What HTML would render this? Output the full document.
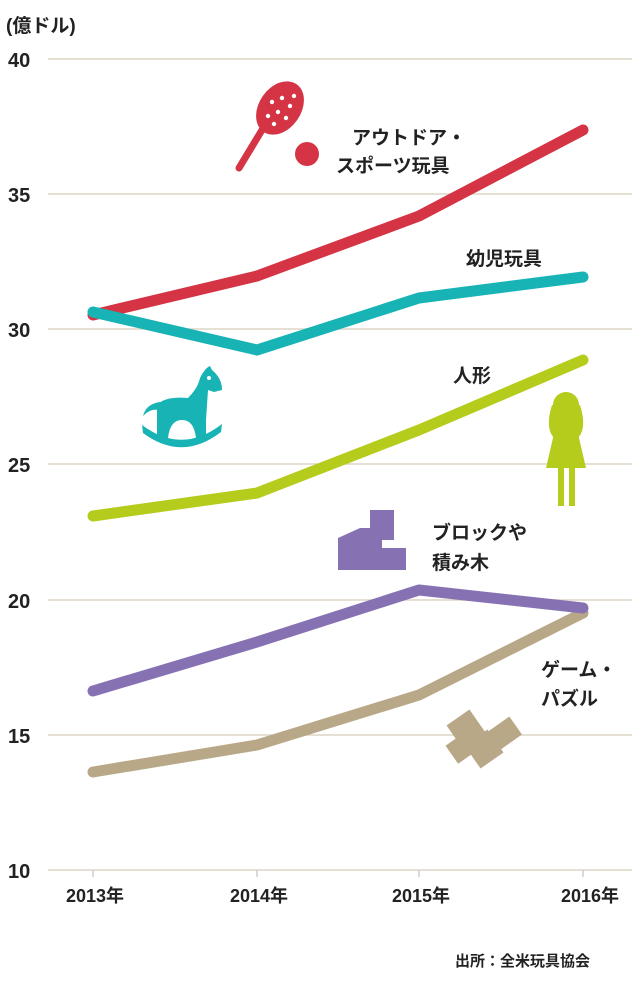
<!DOCTYPE html>
<html><head><meta charset="utf-8"><style>
html,body{margin:0;padding:0;background:#fff;}
svg text{font-family:"Liberation Sans","Noto Sans CJK JP",sans-serif;font-weight:bold;fill:#222;}
</style></head><body>
<svg width="640" height="977" viewBox="0 0 640 977" xmlns="http://www.w3.org/2000/svg">
<text x="6" y="32" font-size="19">(億ドル)</text>
<g stroke="#ddd5c6" stroke-width="1.5">
<line x1="48" y1="59" x2="632" y2="59"/>
<line x1="48" y1="194" x2="632" y2="194"/>
<line x1="48" y1="329" x2="632" y2="329"/>
<line x1="48" y1="464" x2="632" y2="464"/>
<line x1="48" y1="600" x2="632" y2="600"/>
<line x1="48" y1="735" x2="632" y2="735"/>
<line x1="48" y1="870" x2="632" y2="870"/>
</g>
<g stroke="#ccc" stroke-width="1.5">
<line x1="93" y1="870" x2="93" y2="877"/><line x1="257" y1="870" x2="257" y2="877"/>
<line x1="419" y1="870" x2="419" y2="877"/><line x1="583" y1="870" x2="583" y2="877"/>
</g>
<g font-size="20">
<text x="8" y="67">40</text><text x="8" y="202">35</text><text x="8" y="337">30</text>
<text x="8" y="472">25</text><text x="8" y="608">20</text><text x="8" y="743">15</text><text x="8" y="878">10</text>
</g>
<g font-size="18" text-anchor="middle">
<text x="95" y="902">2013年</text><text x="259" y="902">2014年</text>
<text x="421" y="902">2015年</text><text x="590" y="902">2016年</text>
</g>
<g fill="none" stroke-width="11" stroke-linecap="round" stroke-linejoin="round">
<polyline stroke="#b8a888" points="93,772 257,745 419,695 583,613"/>
<polyline stroke="#8672b3" points="93,691 257,642 419,590 583,608"/>
<polyline stroke="#b5cc1c" points="93,516 257,493 419,430 583,360"/>
<polyline stroke="#d43444" points="93,315 257,276 419,216 583,130"/>
<polyline stroke="#17b3b5" points="93,312 257,350 419,298 583,277"/>
</g>
<g font-size="19">
<text x="352" y="144">アウトドア・</text><text x="336" y="172">スポーツ玩具</text>
<text x="466" y="265">幼児玩具</text>
<text x="453" y="382">人形</text>
<text x="432" y="539">ブロックや</text><text x="432" y="569">積み木</text>
<text x="541" y="676">ゲーム・</text><text x="541" y="705">パズル</text>
<text x="455" y="966" font-size="15" font-weight="normal">出所：全米玩具協会</text>
</g>
<!-- racket -->
<g fill="#d43444">
<ellipse cx="280" cy="108" rx="21" ry="29" transform="rotate(35 280 108)"/>
<line x1="262" y1="130" x2="239" y2="168" stroke="#d43444" stroke-width="7" stroke-linecap="round"/>
<circle cx="307" cy="154" r="12"/>
</g>
<g fill="#fff">
<circle cx="272" cy="102" r="2.2"/><circle cx="282" cy="98" r="2.2"/><circle cx="290" cy="106" r="2.2"/>
<circle cx="278" cy="112" r="2.2"/><circle cx="268" cy="116" r="2.2"/><circle cx="286" cy="118" r="2.2"/>
<circle cx="274" cy="124" r="2.2"/><circle cx="294" cy="96" r="2.2"/>
</g>
<!-- rocking horse -->
<g fill="#17b3b5">
<path d="M157 432 L157 405 Q165 396 188 398 Q198 388 200 378 Q205 368 210 366 L212 370 Q222 378 222 390 L214 392 L208 390 L206 420 L206 438 L196 438 Q194 420 182 420 Q170 420 168 438 L157 438 Z"/>
<path d="M160 402 Q146 404 143 416 Q150 408 160 410 Z"/>
<path d="M142 425 Q182 455 222 424 L221 432 Q182 462 143 433 Z"/>
</g>
<circle cx="209" cy="378" r="2" fill="#fff"/>
<!-- doll -->
<g fill="#b5cc1c">
<circle cx="566" cy="405" r="13"/>
<path d="M552 405 Q544 430 556 440 L576 440 Q588 430 580 405 Z"/>
<path d="M556 425 L546 468 L586 468 L576 425 Z"/>
<rect x="558" y="466" width="6" height="40"/><rect x="569" y="466" width="6" height="40"/>
</g>
<!-- blocks -->
<g fill="#8672b3">
<rect x="370" y="510" width="24" height="30"/>
<path d="M338 538 L360 528 L382 528 L382 570 L338 570 Z"/>
<rect x="374" y="548" width="32" height="22"/>
</g>
<!-- puzzle -->
<g fill="#b8a888">
<rect x="452" y="715" width="28" height="28" transform="rotate(-35 466 729)"/>
<rect x="470" y="735" width="28" height="28" transform="rotate(-35 484 749)"/>
<rect x="450" y="738" width="20" height="22" transform="rotate(-35 460 749)"/>
<rect x="492" y="722" width="26" height="22" transform="rotate(-35 505 733)"/>
</g>
</svg>
</body></html>
